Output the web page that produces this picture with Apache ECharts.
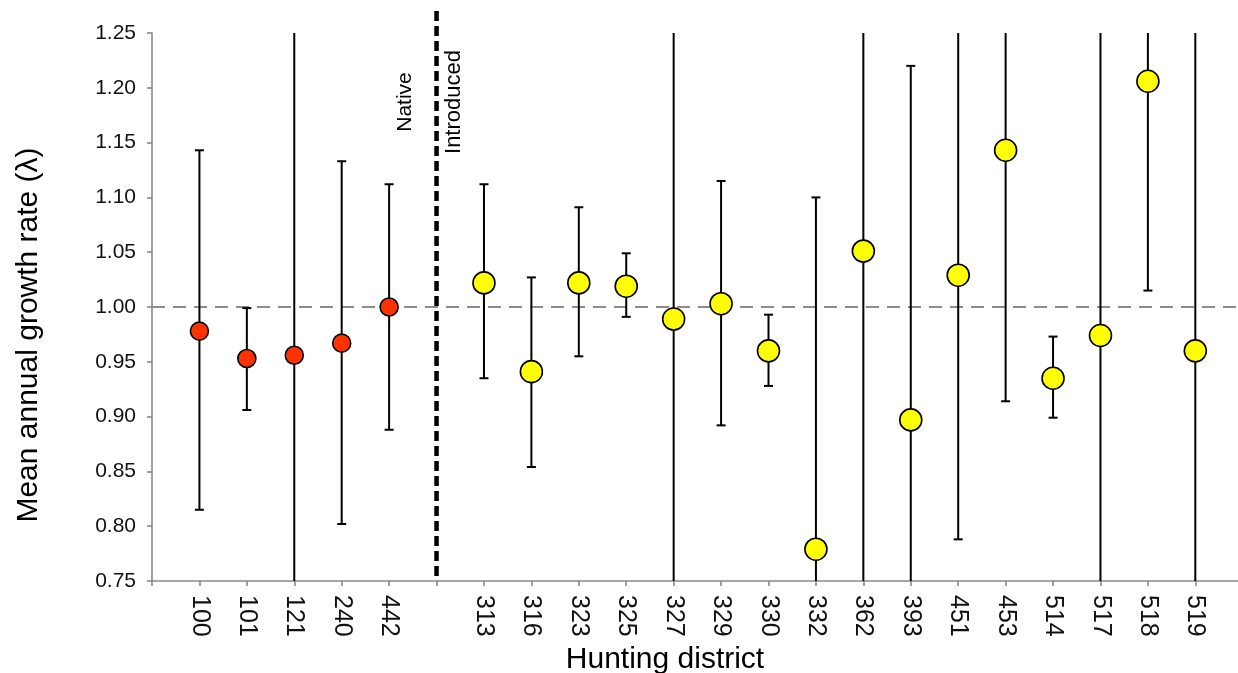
<!DOCTYPE html>
<html>
<head>
<meta charset="utf-8">
<title>Mean annual growth rate by hunting district</title>
<script src="https://cdn.jsdelivr.net/npm/echarts@6/dist/echarts.min.js"></script>
<style>
  html, body { margin: 0; padding: 0; background: #fff; }
  #chart { width: 1238px; height: 673px; }
</style>
</head>
<body>
<div id="chart"></div>
<script>
// Native hunting districts: mean growth rate and interval bounds
const nativeDistricts = ['100', '101', '121', '240', '442'];
const nativeMean  = [0.978, 0.953, 0.956, 0.967, 1.000];
const nativeLower = [0.815, 0.906, 0.620, 0.802, 0.888];
const nativeUpper = [1.143, 0.999, 1.320, 1.133, 1.112];

// Introduced hunting districts
const introducedDistricts = ['313', '316', '323', '325', '327', '329', '330', '332',
                             '362', '393', '451', '453', '514', '517', '518', '519'];
const introducedMean  = [1.022, 0.941, 1.022, 1.019, 0.989, 1.003, 0.960, 0.779,
                         1.051, 0.897, 1.029, 1.143, 0.935, 0.974, 1.206, 0.960];
const introducedLower = [0.935, 0.854, 0.955, 0.991, 0.680, 0.892, 0.928, 0.450,
                         0.700, 0.600, 0.788, 0.914, 0.899, 0.660, 1.015, 0.640];
const introducedUpper = [1.112, 1.027, 1.091, 1.049, 1.300, 1.115, 0.993, 1.100,
                         1.400, 1.220, 1.270, 1.380, 0.973, 1.290, 1.400, 1.280];

// Axis slots: one empty slot at the start and one between the two groups
const tickLabels = [''].concat(nativeDistricts, [''], introducedDistricts);
const separatorSlot = nativeDistricts.length + 1;
const referenceLambda = 1.0;

const nativeX = nativeDistricts.map((d, i) => i + 1);
const introducedX = introducedDistricts.map((d, i) => separatorSlot + 1 + i);

const nativePoints = nativeX.map((x, i) => [x, nativeMean[i]]);
const introducedPoints = introducedX.map((x, i) => [x, introducedMean[i]]);
const intervals = nativeX.map((x, i) => [x, nativeLower[i], nativeUpper[i]])
  .concat(introducedX.map((x, i) => [x, introducedLower[i], introducedUpper[i]]));

const chart = echarts.init(document.getElementById('chart'), null, { renderer: 'canvas' });

// Vertical interval line with end caps, trimmed to the plotting area
function renderErrorBar(params, api) {
  const cs = params.coordSys;
  const x = api.value(0);
  const top = api.coord([x, api.value(2)]);
  const bottom = api.coord([x, api.value(1)]);
  const yMin = cs.y, yMax = cs.y + cs.height;
  const half = 4.5;
  const style = { stroke: '#000', lineWidth: 2 };
  const children = [{
    type: 'line',
    shape: { x1: top[0], y1: Math.max(top[1], yMin), x2: bottom[0], y2: Math.min(bottom[1], yMax) },
    style: style
  }];
  if (top[1] >= yMin) {
    children.push({ type: 'line', shape: { x1: top[0] - half, y1: top[1], x2: top[0] + half, y2: top[1] }, style: style });
  }
  if (bottom[1] <= yMax) {
    children.push({ type: 'line', shape: { x1: bottom[0] - half, y1: bottom[1], x2: bottom[0] + half, y2: bottom[1] }, style: style });
  }
  return { type: 'group', children: children };
}

// Heavy dashed divider between native and introduced districts
function renderSeparator(params, api) {
  const x = api.value(0);
  const top = api.coord([x, 1.27]);
  const bottom = api.coord([x, 0.75]);
  return {
    type: 'line',
    shape: { x1: top[0], y1: top[1], x2: bottom[0], y2: bottom[1] },
    style: { stroke: '#000', lineWidth: 4.5, lineDash: [10, 5] }
  };
}

const axisGray = '#8a8a8a';
const fontFamily = 'Liberation Sans, Arial, sans-serif';

chart.setOption({
  animation: false,
  backgroundColor: '#fff',
  grid: { left: 152, right: 0, top: 33, bottom: 92, containLabel: false, outerBoundsMode: 'none' },
  xAxis: {
    type: 'value',
    min: 0,
    max: 22.9,
    interval: 1,
    name: 'Hunting district',
    nameLocation: 'middle',
    nameGap: 63,
    nameTextStyle: { fontFamily: fontFamily, fontSize: 30, color: '#000', padding: [0, 60, 0, 0] },
    axisLine: { lineStyle: { color: axisGray, width: 1.6 } },
    axisTick: { show: true, length: 5, lineStyle: { color: axisGray, width: 1.6 } },
    axisLabel: {
      rotate: -90,
      margin: 14,
      fontFamily: fontFamily,
      fontSize: 25,
      color: '#111',
      showMaxLabel: false,
      formatter: v => tickLabels[Math.round(v)] || ''
    },
    splitLine: { show: false }
  },
  yAxis: {
    type: 'value',
    min: 0.75,
    max: 1.25,
    interval: 0.05,
    name: 'Mean annual growth rate (λ)',
    nameLocation: 'middle',
    nameGap: 108,
    nameTextStyle: { fontFamily: fontFamily, fontSize: 30, color: '#000', padding: [0, 56, 0, 0] },
    axisLine: { show: true, lineStyle: { color: axisGray, width: 1.6 } },
    axisTick: { show: true, length: 5, lineStyle: { color: axisGray, width: 1.6 } },
    axisLabel: {
      margin: 16,
      fontFamily: fontFamily,
      fontSize: 21,
      color: '#111',
      formatter: v => v.toFixed(2)
    },
    splitLine: { show: false }
  },
  series: [
    {
      type: 'custom',
      name: 'interval',
      renderItem: renderErrorBar,
      data: intervals,
      encode: { x: 0, y: [1, 2] },
      clip: true,
      z: 2,
      silent: true
    },
    {
      type: 'custom',
      name: 'separator',
      renderItem: renderSeparator,
      data: [[separatorSlot]],
      encode: { x: 0 },
      clip: false,
      z: 3,
      silent: true
    },
    {
      type: 'scatter',
      name: 'Native',
      data: nativePoints,
      symbol: 'circle',
      symbolSize: 18,
      itemStyle: { color: '#ff3300', borderColor: '#000', borderWidth: 1.6, opacity: 1 },
      z: 5,
      markLine: {
        silent: true,
        symbol: 'none',
        label: { show: false },
        lineStyle: { color: '#8c8c8c', type: [13, 8], width: 2 },
        data: [{ yAxis: referenceLambda }],
        z: 1
      }
    },
    {
      type: 'scatter',
      name: 'Introduced',
      data: introducedPoints,
      symbol: 'circle',
      symbolSize: 22,
      itemStyle: { color: '#ffff00', borderColor: '#000', borderWidth: 1.6, opacity: 1 },
      z: 5
    }
  ],
  graphic: [
    {
      type: 'text',
      x: 405, y: 102,
      rotation: Math.PI / 2,
      style: { text: 'Native', font: '21px ' + fontFamily, fill: '#000', textAlign: 'center', textVerticalAlign: 'middle' }
    },
    {
      type: 'text',
      x: 454, y: 102,
      rotation: Math.PI / 2,
      style: { text: 'Introduced', font: '22px ' + fontFamily, fill: '#000', textAlign: 'center', textVerticalAlign: 'middle' }
    }
  ]
});
</script>
</body>
</html>
